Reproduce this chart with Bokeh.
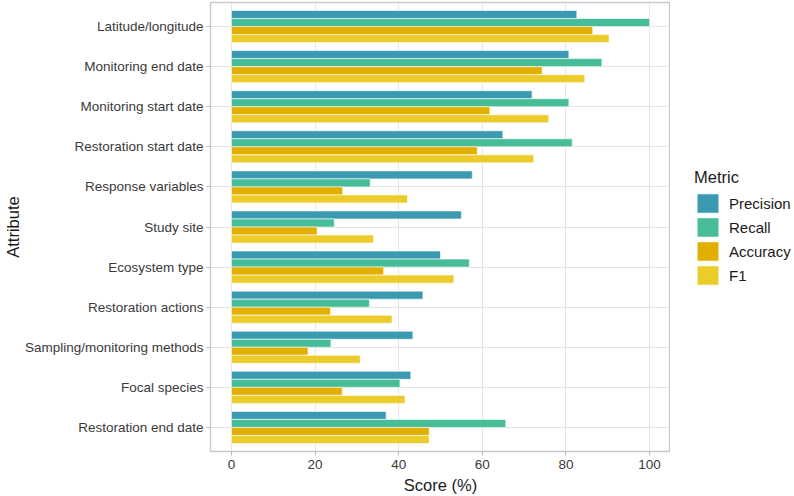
from bokeh.plotting import figure
from bokeh.layouts import row
from bokeh.models import (FactorRange, Range1d, FixedTicker, Legend, LegendItem,
                          ColumnDataSource)
from bokeh.transform import dodge
from bokeh.embed import file_html
from bokeh.resources import INLINE

# Attributes, listed top to bottom as shown
attributes = [
    "Latitude/longitude",
    "Monitoring end date",
    "Monitoring start date",
    "Restoration start date",
    "Response variables",
    "Study site",
    "Ecosystem type",
    "Restoration actions",
    "Sampling/monitoring methods",
    "Focal species",
    "Restoration end date",
]

# Scores (%) per metric
precision = [82.6, 80.7, 71.9, 64.9, 57.6, 55.0, 50.0, 45.8, 43.4, 42.9, 37.0]
recall = [100.0, 88.6, 80.7, 81.5, 33.2, 24.6, 56.9, 33.0, 23.8, 40.3, 65.6]
accuracy = [86.4, 74.3, 61.8, 58.8, 26.6, 20.5, 36.4, 23.7, 18.3, 26.5, 47.3]
f1 = [90.3, 84.5, 75.9, 72.3, 42.1, 34.0, 53.2, 38.4, 30.8, 41.5, 47.3]

metrics = ["Precision", "Recall", "Accuracy", "F1"]
x_ticks = [0, 20, 40, 60, 80, 100]

colors = ["#3B9AB2", "#46BD98", "#E1AF00", "#EBCC2A"]
offsets = [0.3, 0.1, -0.1, -0.3]
FONT = "Liberation Sans"

source = ColumnDataSource(dict(
    attribute=attributes,
    Precision=precision,
    Recall=recall,
    Accuracy=accuracy,
    F1=f1,
))

# bottom-to-top factor order so the first attribute sits at the top
y_range = FactorRange(factors=attributes[::-1], range_padding=0.1,
                      range_padding_units="absolute")

p = figure(width=670, height=496, y_range=y_range, x_range=Range1d(-5, 105),
           output_backend="svg", toolbar_location=None,
           min_border_left=210, min_border_right=0,
           min_border_top=2, min_border_bottom=43)

for m, c, off in zip(metrics, colors, offsets):
    p.hbar(y=dodge("attribute", off, range=p.y_range), right=m, left=0,
           height=0.2, source=source, fill_color=c,
           line_color="white", line_width=0.6)

# panel styling
p.background_fill_color = "white"
p.border_fill_color = "white"
p.outline_line_color = "#c9c9c9"
p.outline_line_width = 1.3

p.xgrid.grid_line_color = "#e4e4e4"
p.ygrid.grid_line_color = "#e4e4e4"
p.xgrid.grid_line_width = 1
p.ygrid.grid_line_width = 1

p.xaxis.ticker = FixedTicker(ticks=x_ticks)
p.xaxis.axis_label = "Score (%)"
p.yaxis.axis_label = "Attribute"

for ax in (p.xaxis[0], p.yaxis[0]):
    ax.axis_line_color = None
    ax.major_tick_line_color = "#bdbdbd"
    ax.major_tick_out = 4
    ax.major_tick_in = 0
    ax.minor_tick_line_color = None
    ax.major_label_text_font = FONT
    ax.major_label_text_font_size = "13.5px"
    ax.major_label_text_color = "#3a3a3a"
    ax.axis_label_text_font = FONT
    ax.axis_label_text_font_size = "16.5px"
    ax.axis_label_text_font_style = "normal"
    ax.axis_label_text_color = "#1a1a1a"

p.xaxis.major_label_standoff = 4
p.xaxis.axis_label_standoff = 4
p.yaxis.major_label_standoff = 3
p.yaxis.axis_label_standoff = 0

# legend panel: a narrow companion figure holding the colour keys
lp = figure(width=124, height=496, output_backend="svg", toolbar_location=None,
            x_axis_location=None, y_axis_location=None,
            x_range=Range1d(0, 1), y_range=Range1d(0, 1),
            min_border_left=0, min_border_right=0,
            min_border_top=0, min_border_bottom=0)
lp.outline_line_color = None
lp.grid.visible = False
lp.background_fill_color = "white"
lp.border_fill_color = "white"

# zero-size placeholders that only supply the key swatches
key_renderers = []
for c in colors:
    key_renderers.append(
        lp.hbar(y=[0], right=[0], left=0, height=0, fill_color=c,
                line_color="white", line_width=0.6)
    )

legend = Legend(
    items=[LegendItem(label=m, renderers=[r]) for m, r in zip(metrics, key_renderers)],
    location=(24, 164),
    title="Metric",
    title_text_font=FONT,
    title_text_font_size="16.5px",
    title_text_font_style="normal",
    title_text_color="#1a1a1a",
    title_standoff=4,
    label_text_font=FONT,
    label_text_font_size="15px",
    label_text_color="#1a1a1a",
    label_standoff=8,
    label_height=24,
    glyph_width=27,
    glyph_height=24,
    spacing=0,
    padding=3,
    margin=0,
    border_line_color=None,
    background_fill_alpha=0,
)
lp.add_layout(legend)

layout = row(p, lp)

open("out.html", "w").write(file_html(layout, INLINE))
